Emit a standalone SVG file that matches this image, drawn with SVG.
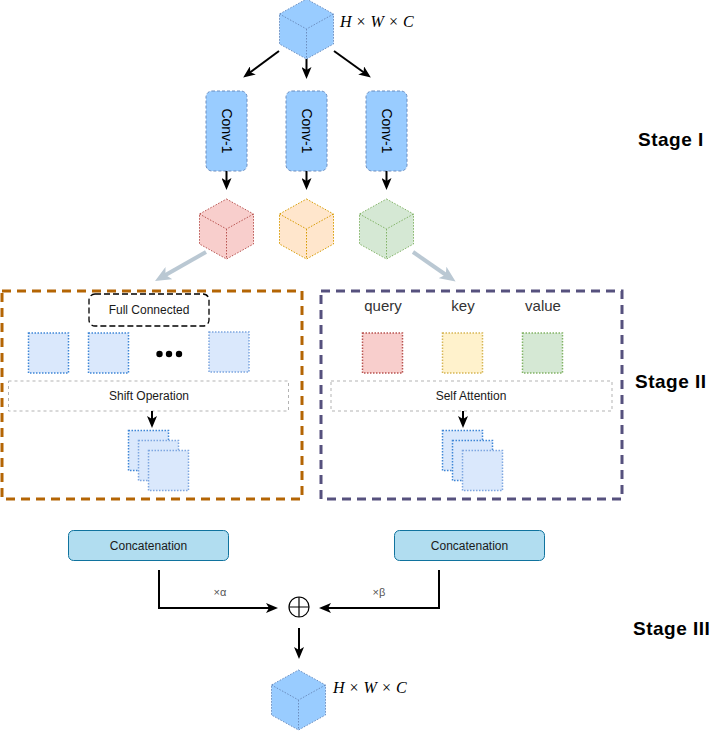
<svg xmlns="http://www.w3.org/2000/svg" width="713" height="731" viewBox="0 0 713 731">
<style>
  .sans{font-family:"Liberation Sans",Arial,sans-serif;}
  .math{font-family:"Liberation Serif","Times New Roman",serif;font-size:16px;fill:#000;word-spacing:1px;}
  .cube{stroke-width:1;stroke-dasharray:1.5 1.5;}
  .blue{fill:#99ccff;stroke:#6c8ebf;}
  .red{fill:#f8cecc;stroke:#b85450;}
  .orange{fill:#ffe6cc;stroke:#d79b00;}
  .green{fill:#d5e8d4;stroke:#82b366;}
  .yellow{fill:#fff2cc;stroke:#d6b656;}
  .inner{fill:none;stroke-width:1;stroke-dasharray:1.5 1.5;}
  .conv{fill:#99ccff;stroke:#6c8ebf;stroke-width:1;stroke-dasharray:3 2;}
  .sq{stroke-width:1.5;stroke-dasharray:1.5 1.5;}
  .sqb{fill:#dae8fc;stroke:#3f86d6;}
  .sqb2{fill:#dae8fc;stroke:#7ea6e0;}
  .arrow{stroke:#000;stroke-width:2;fill:none;marker-end:url(#ah);}
  .garrow{stroke:#bac8d3;stroke-width:4;fill:none;marker-end:url(#gh);}
  .stage{font-family:"Liberation Sans",Arial,sans-serif;font-weight:bold;font-size:19px;letter-spacing:0.5px;fill:#000;}
  .lbl{font-size:12px;fill:#1a1a1a;}
  .qkv{font-size:15px;fill:#333;}
  .concat{fill:#b1ddf0;stroke:#10739e;stroke-width:1;}
</style>
<defs>
  <marker id="ah" markerUnits="userSpaceOnUse" markerWidth="12" markerHeight="10" refX="6" refY="5" orient="auto">
    <path d="M0,0 L12,5 L0,10 L3,5 Z" fill="#000"/>
  </marker>
  <marker id="gh" markerUnits="userSpaceOnUse" markerWidth="16" markerHeight="14" refX="8" refY="7" orient="auto">
    <path d="M0,0 L16,7 L0,14 L4,7 Z" fill="#bac8d3"/>
  </marker>
</defs>

<!-- Stage labels -->
<text class="stage" x="638" y="146">Stage I</text>
<text class="stage" x="635" y="388">Stage II</text>
<text class="stage" x="633" y="635">Stage III</text>

<!-- Group boxes -->
<g id="group-shift">
  <rect x="2" y="291" width="300" height="208" fill="none" stroke="#b46504" stroke-width="3" stroke-dasharray="9 6"/>
</g>
<g id="group-attention">
  <rect x="321" y="291" width="301" height="208" fill="none" stroke="#56517e" stroke-width="3" stroke-dasharray="9 6"/>
</g>

<!-- Input cube -->
<g id="input-cube">
  <polygon class="cube blue" points="306.5,-1 333.5,14 333.5,44 306.5,59 279.5,44 279.5,14"/>
  <path class="inner" stroke="#6c8ebf" d="M279.5,14 L306.5,29 L333.5,14 M306.5,29 L306.5,59"/>
  <text class="math" x="340" y="27"><tspan font-style="italic">H</tspan> × <tspan font-style="italic">W</tspan> × <tspan font-style="italic">C</tspan></text>
</g>

<!-- Conv boxes -->
<g id="conv1">
  <rect class="conv" x="206" y="91" width="41" height="80" rx="6"/>
  <text class="sans" font-size="14" fill="#000" text-anchor="middle" transform="translate(226.5,131) rotate(90)" dy="5">Conv-1</text>
</g>
<g id="conv2">
  <rect class="conv" x="286" y="91" width="41" height="80" rx="6"/>
  <text class="sans" font-size="14" fill="#000" text-anchor="middle" transform="translate(306.5,131) rotate(90)" dy="5">Conv-1</text>
</g>
<g id="conv3">
  <rect class="conv" x="366" y="91" width="41" height="80" rx="6"/>
  <text class="sans" font-size="14" fill="#000" text-anchor="middle" transform="translate(386.5,131) rotate(90)" dy="5">Conv-1</text>
</g>

<!-- Colored cubes -->
<g id="cube-q">
  <polygon class="cube red" points="226.5,199 253.5,214 253.5,244 226.5,259 199.5,244 199.5,214"/>
  <path class="inner" stroke="#b85450" d="M199.5,214 L226.5,229 L253.5,214 M226.5,229 L226.5,259"/>
</g>
<g id="cube-k">
  <polygon class="cube orange" points="306.5,199 333.5,214 333.5,244 306.5,259 279.5,244 279.5,214"/>
  <path class="inner" stroke="#d79b00" d="M279.5,214 L306.5,229 L333.5,214 M306.5,229 L306.5,259"/>
</g>
<g id="cube-v">
  <polygon class="cube green" points="386.5,199 413.5,214 413.5,244 386.5,259 359.5,244 359.5,214"/>
  <path class="inner" stroke="#82b366" d="M359.5,214 L386.5,229 L413.5,214 M386.5,229 L386.5,259"/>
</g>

<!-- Left group content -->
<g id="full-connected">
  <rect x="89" y="294" width="120" height="32" rx="6" fill="#fff" stroke="#000" stroke-width="1.3" stroke-dasharray="6 3"/>
  <text class="sans lbl" x="149" y="314" text-anchor="middle">Full Connected</text>
</g>
<g id="feat1"><rect class="sq sqb" x="28.5" y="333" width="40" height="40"/></g>
<g id="feat2"><rect class="sq sqb" x="88.5" y="333" width="40" height="40"/></g>
<g id="ellipsis">
  <circle cx="159.5" cy="354" r="3.2" fill="#000"/>
  <circle cx="169" cy="354" r="3.2" fill="#000"/>
  <circle cx="179" cy="354" r="3.2" fill="#000"/>
</g>
<g id="feat3"><rect class="sq sqb2" x="209" y="332" width="40" height="40"/></g>
<g id="shift-op">
  <rect x="8.5" y="381" width="280" height="30" fill="#fff" stroke="#b3b3b3" stroke-width="1" stroke-dasharray="3 3"/>
  <text class="sans lbl" x="149" y="400" text-anchor="middle">Shift Operation</text>
</g>
<g id="shift-stack">
  <rect class="sq sqb" x="128.5" y="430.5" width="40" height="40"/>
  <rect class="sq sqb2" x="138.5" y="440.5" width="40" height="40"/>
  <rect class="sq sqb2" x="148.5" y="450.5" width="40" height="40"/>
</g>

<!-- Right group content -->
<g id="query">
  <text class="sans qkv" x="383" y="311" text-anchor="middle">query</text>
  <rect class="sq red" x="362.5" y="333" width="40" height="40"/>
</g>
<g id="key">
  <text class="sans qkv" x="463" y="311" text-anchor="middle">key</text>
  <rect class="sq yellow" x="442.5" y="333" width="40" height="40"/>
</g>
<g id="value">
  <text class="sans qkv" x="543" y="311" text-anchor="middle">value</text>
  <rect class="sq green" x="522.5" y="333" width="40" height="40"/>
</g>
<g id="self-attention">
  <rect x="331" y="381" width="281" height="30" fill="#fff" stroke="#b3b3b3" stroke-width="1" stroke-dasharray="3 3"/>
  <text class="sans lbl" x="471" y="400" text-anchor="middle">Self Attention</text>
</g>
<g id="attn-stack">
  <rect class="sq sqb" x="442.5" y="430.5" width="40" height="40"/>
  <rect class="sq sqb" x="452.5" y="440.5" width="40" height="40"/>
  <rect class="sq sqb2" x="462.5" y="450.5" width="40" height="40"/>
</g>

<!-- Concatenation -->
<g id="concat-left">
  <rect class="concat" x="68.5" y="530.5" width="160" height="30" rx="5"/>
  <text class="sans" font-size="12" fill="#1a1a1a" x="148.5" y="549.5" text-anchor="middle">Concatenation</text>
</g>
<g id="concat-right">
  <rect class="concat" x="394.5" y="530.5" width="150" height="30" rx="5"/>
  <text class="sans" font-size="12" fill="#1a1a1a" x="469.5" y="549.5" text-anchor="middle">Concatenation</text>
</g>

<!-- Sum -->
<g id="sum">
  <circle cx="299" cy="607" r="10" fill="#fff" stroke="#000" stroke-width="1.2"/>
  <path d="M289,607 H309 M299,597 V617" stroke="#000" stroke-width="1.2"/>
</g>

<!-- Output cube -->
<g id="output-cube">
  <polygon class="cube blue" points="298.5,670 325.5,685 325.5,715 298.5,730 271.5,715 271.5,685"/>
  <path class="inner" stroke="#6c8ebf" d="M271.5,685 L298.5,700 L325.5,685 M298.5,700 L298.5,730"/>
  <text class="math" x="333" y="693"><tspan font-style="italic">H</tspan> × <tspan font-style="italic">W</tspan> × <tspan font-style="italic">C</tspan></text>
</g>

<!-- Connectors -->
<g id="connectors">
  <line class="arrow" x1="279" y1="51" x2="248" y2="74"/>
  <line class="arrow" x1="306.5" y1="59" x2="306.5" y2="73"/>
  <line class="arrow" x1="334" y1="51" x2="366" y2="74"/>
  <line class="arrow" x1="226.5" y1="171" x2="226.5" y2="184"/>
  <line class="arrow" x1="306.5" y1="171" x2="306.5" y2="184"/>
  <line class="arrow" x1="386.5" y1="171" x2="386.5" y2="184"/>
  <line class="garrow" x1="206" y1="252" x2="162" y2="277"/>
  <line class="garrow" x1="413" y1="252" x2="449" y2="277"/>
  <line class="arrow" x1="152" y1="411" x2="152" y2="422"/>
  <line class="arrow" x1="463" y1="411" x2="463" y2="422"/>
  <path class="arrow" d="M159,570 V608 H272"/>
  <path class="arrow" d="M439,570 V608 H325"/>
  <line class="arrow" x1="299" y1="628" x2="299" y2="653"/>
  <text class="sans" font-size="11" fill="#555" x="220" y="596" text-anchor="middle">×α</text>
  <text class="sans" font-size="11" fill="#555" x="379" y="596" text-anchor="middle">×β</text>
</g>
</svg>
